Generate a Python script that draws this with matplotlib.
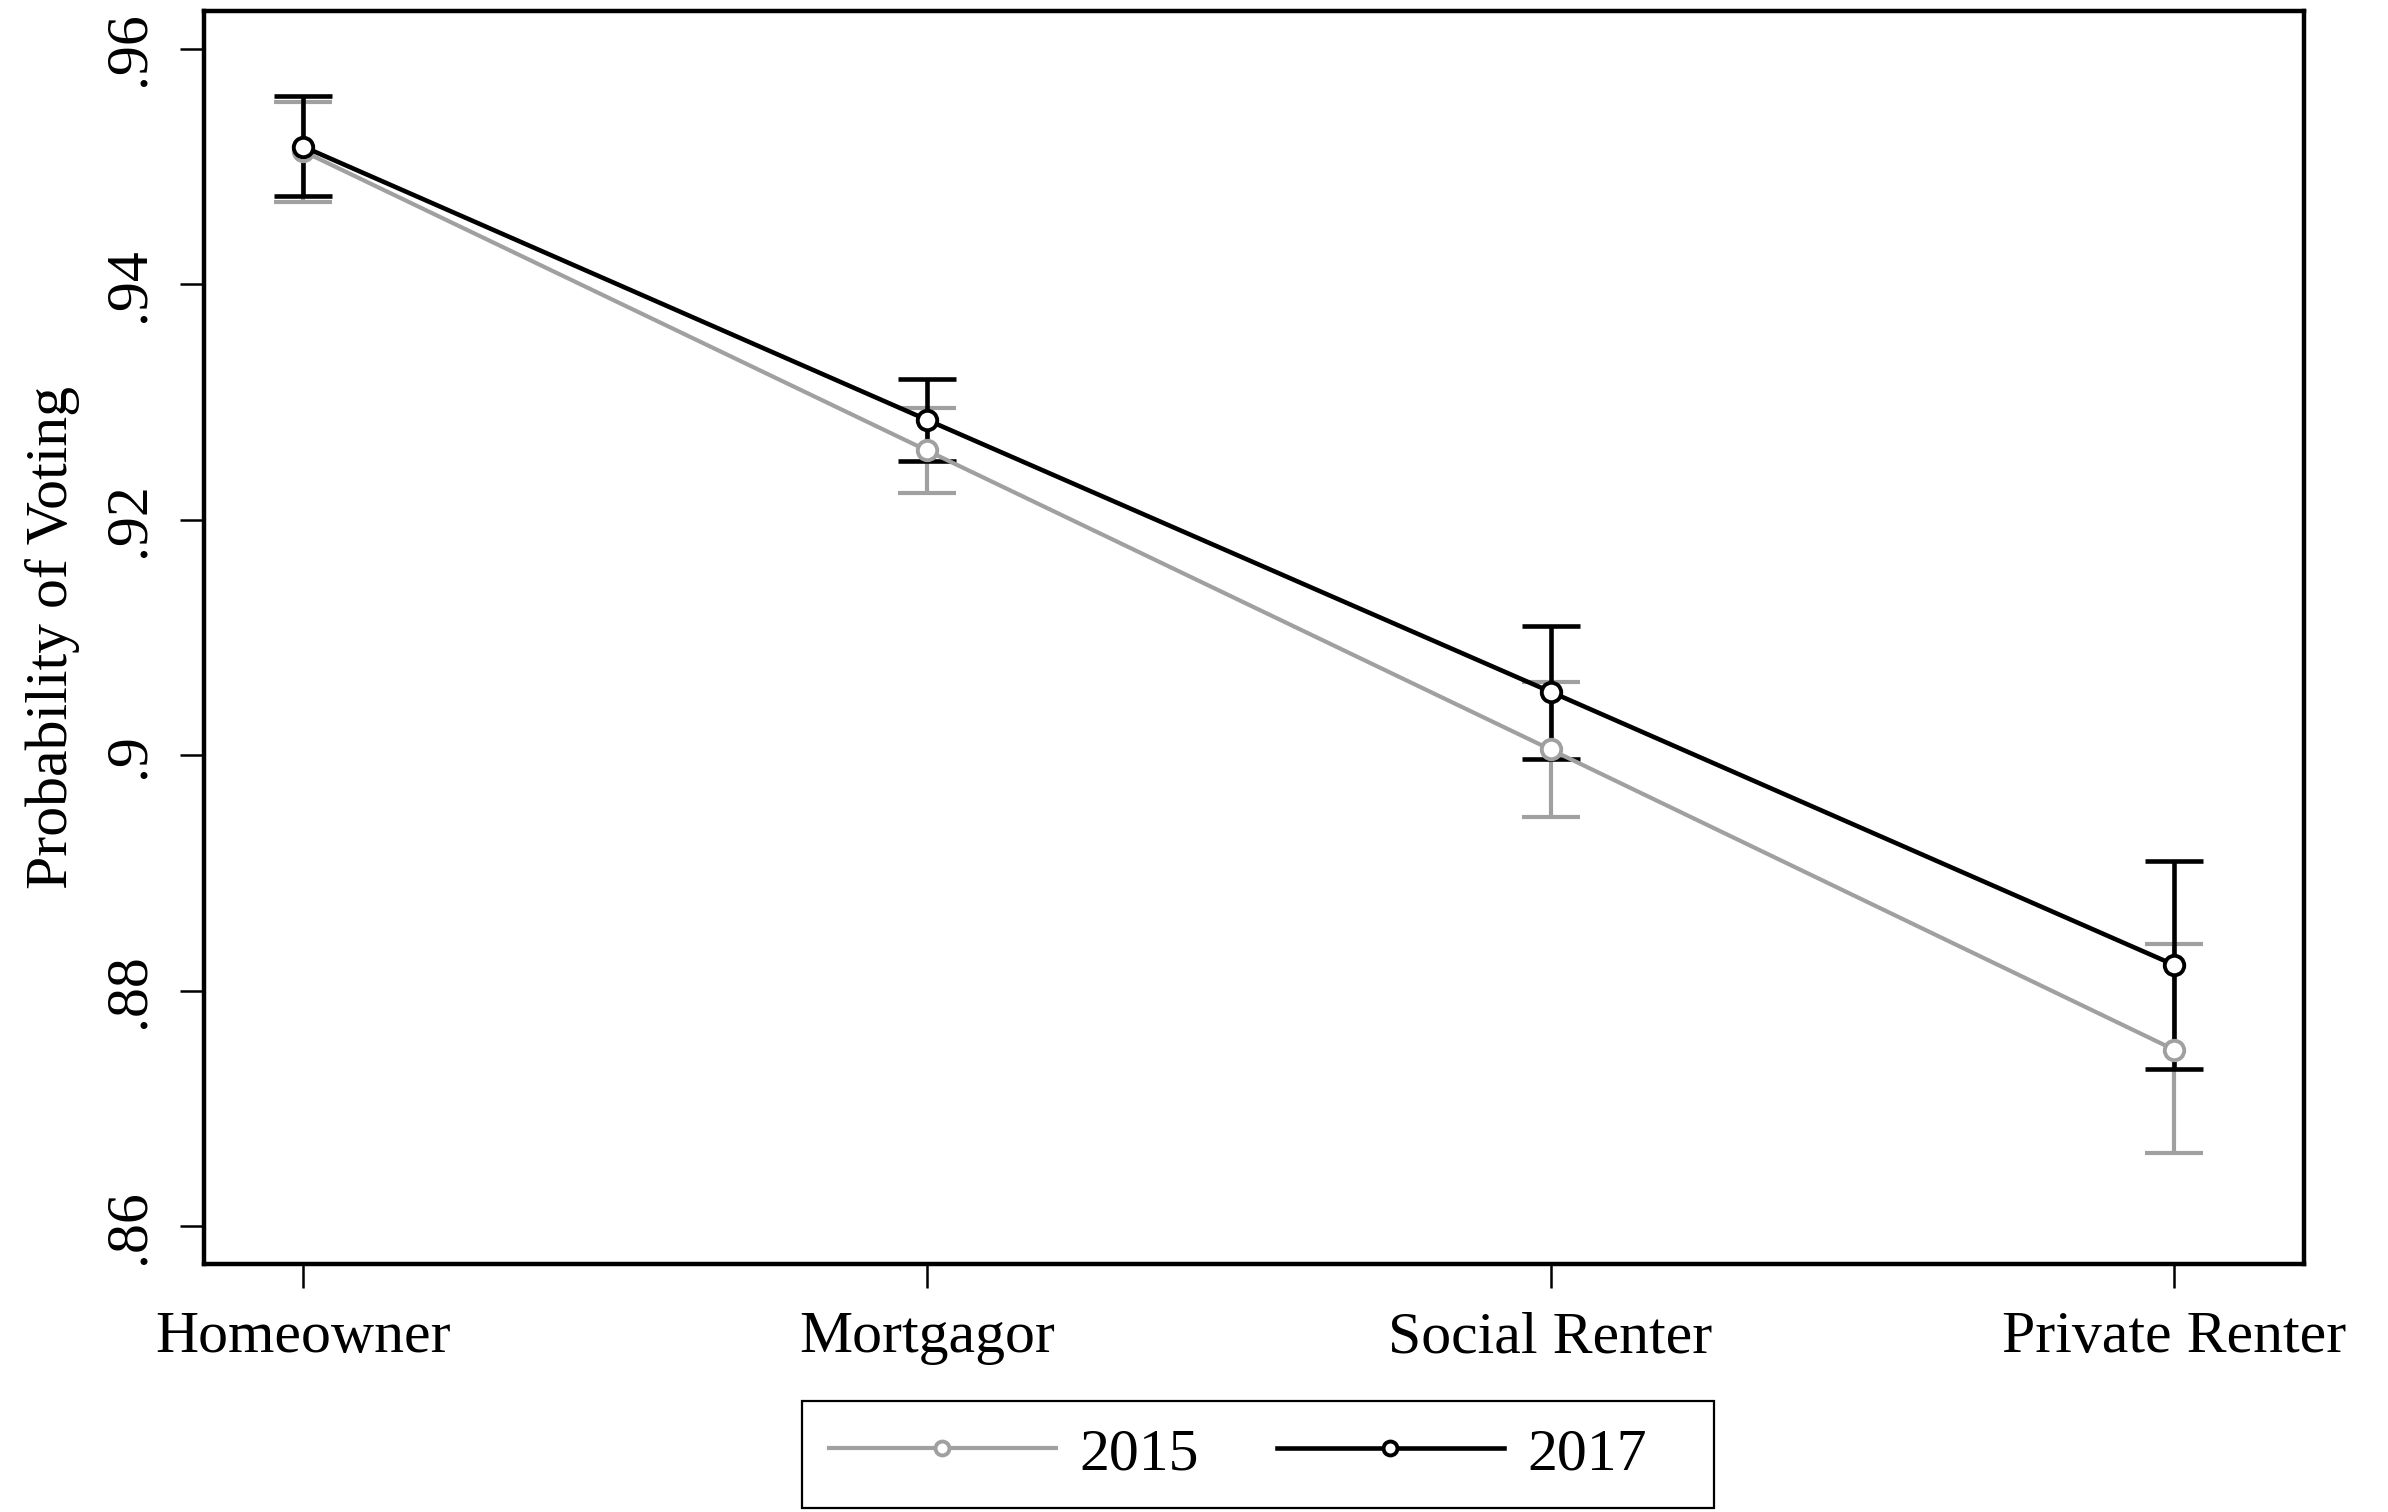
import matplotlib
matplotlib.use("Agg")
import matplotlib.pyplot as plt
import matplotlib.patches as patches
import numpy as np

plt.rcParams['font.family'] = ['Liberation Serif', 'DejaVu Serif']

categories = ['Homeowner', 'Mortgagor', 'Social Renter', 'Private Renter']

# point estimates and 95% CI
est_2015 = [0.9513, 0.9259, 0.9005, 0.8750]
lo_2015 = [0.9470, 0.9223, 0.8948, 0.8662]
hi_2015 = [0.9555, 0.9295, 0.9062, 0.8840]

est_2017 = [0.9517, 0.9285, 0.9054, 0.8822]
lo_2017 = [0.9475, 0.9250, 0.8997, 0.8734]
hi_2017 = [0.9560, 0.9320, 0.9110, 0.8910]

yticks = [0.86, 0.88, 0.90, 0.92, 0.94, 0.96]
ytick_labels = ['.86', '.88', '.9', '.92', '.94', '.96']

gray = '#a0a0a0'
fs = 43

fig = plt.figure(figsize=(23.88, 15.12), dpi=100)
ax = fig.add_axes([0.0854, 0.164, 0.8794, 0.8286])

x = np.arange(len(categories))


def draw(est, lo, hi, col, lw, z):
    est = np.array(est)
    err = [est - np.array(lo), np.array(hi) - est]
    ax.errorbar(x, est, yerr=err, fmt='none', ecolor=col, elinewidth=lw,
                capsize=21, capthick=lw, zorder=z)
    ln, = ax.plot(x, est, color=col, lw=lw, marker='o', ms=14, mfc='white',
                  mec=col, mew=2.8, zorder=z + 2)
    return ln


l15 = draw(est_2015, lo_2015, hi_2015, gray, 3.0, 2)
l17 = draw(est_2017, lo_2017, hi_2017, 'black', 3.3, 3)

ax.set_xlim(-0.159, 3.208)
ax.set_ylim(0.8568, 0.9632)
ax.set_xticks(x)
ax.set_xticklabels(categories, fontsize=fs)
ax.set_yticks(yticks)
ax.set_yticklabels(ytick_labels, fontsize=fs, rotation=90, va='center')
ax.tick_params(axis='both', length=17, width=1.8, direction='out', color='black')
ax.tick_params(axis='x', pad=17)
ax.tick_params(axis='y', pad=17)
for s in ax.spines.values():
    s.set_linewidth(3.2)

ax.set_ylabel('Probability of Voting', fontsize=fs, labelpad=16)

leg = fig.legend([l15, l17], ['2015', '2017'], loc='lower center',
                 bbox_to_anchor=(0.5184, 0.0), ncol=2, fontsize=fs,
                 frameon=False,
                 handlelength=3.8, handletextpad=0.4, columnspacing=1.3,
                 borderpad=0.45, borderaxespad=0.05)
for h in leg.legend_handles:
    h.set_markersize(10)

# Stata-style legend box: a bit more room on the right side
fig.canvas.draw()
bb = leg.get_window_extent()
frame = patches.Rectangle((bb.x0, bb.y0 + 1), bb.width + 40, bb.height - 2,
                          transform=None, fill=False, edgecolor='black',
                          linewidth=1.6)
fig.patches.append(frame)

fig.savefig('out.png', dpi=100, facecolor='white')
